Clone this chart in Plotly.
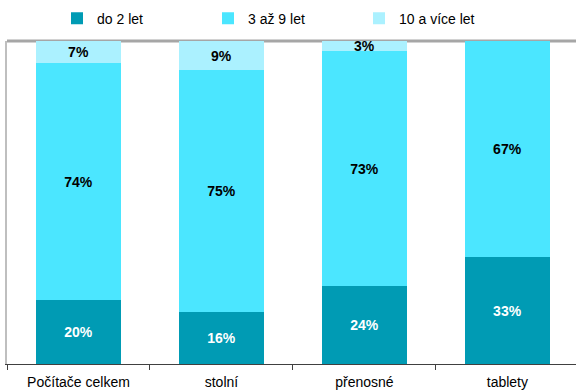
import plotly.graph_objects as go

categories = ["Počítače celkem", "stolní", "přenosné", "tablety"]
series_names = ["do 2 let", "3 až 9 let", "10 a více let"]
do2 = [20, 16, 24, 33]
az9 = [74, 75, 73, 67]
vice10 = [7, 9, 3, 0]
colors = ["#009BB4", "#4BE6FF", "#ABF1FF"]
text_colors = ["white", "black", "black"]

FONT = "Liberation Sans, Arial"

fig = go.Figure()
for name, vals, col, tc in zip(series_names, [do2, az9, vice10], colors, text_colors):
    fig.add_trace(go.Bar(
        x=categories, y=vals, name=name, marker_color=col,
        marker_line_width=0,
        text=[f"{v}%" if v > 0 else "" for v in vals],
        textposition="inside", insidetextanchor="middle",
        textfont=dict(family=FONT, size=14, color=tc),
        texttemplate="<b>%{text}</b>",
        constraintext="none",
    ))

fig.update_layout(
    barmode="stack", barnorm="percent",
    width=576, height=392,
    margin=dict(l=7, r=0, t=41, b=28),
    paper_bgcolor="white", plot_bgcolor="white",
    bargap=0.41,
    uniformtext=dict(minsize=8, mode="show"),
    legend=dict(orientation="h", traceorder="normal",
                xref="container", x=57 / 576, xanchor="left",
                yref="container", y=0.993, yanchor="top",
                font=dict(family=FONT, size=14, color="black"),
                itemwidth=30, entrywidth=106),
    showlegend=True,
)
fig.update_xaxes(
    range=[-0.5, 3.48], tickson="boundaries", ticks="outside", ticklen=5,
    tickcolor="#404040", showline=True, linecolor="#404040", linewidth=1,
    tickfont=dict(family=FONT, size=14, color="black"),
    ticklabelstandoff=5,
    showgrid=False,
)
fig.update_yaxes(range=[0, 100], showticklabels=False, showgrid=False, zeroline=False,
                 showline=True, linecolor="#BFBFBF", linewidth=2)
fig.add_shape(type="line", xref="paper", yref="paper", x0=0, x1=1, y0=1, y1=1,
              line=dict(color="#A6A6A6", width=3), layer="below")

fig.write_html("out.html")
